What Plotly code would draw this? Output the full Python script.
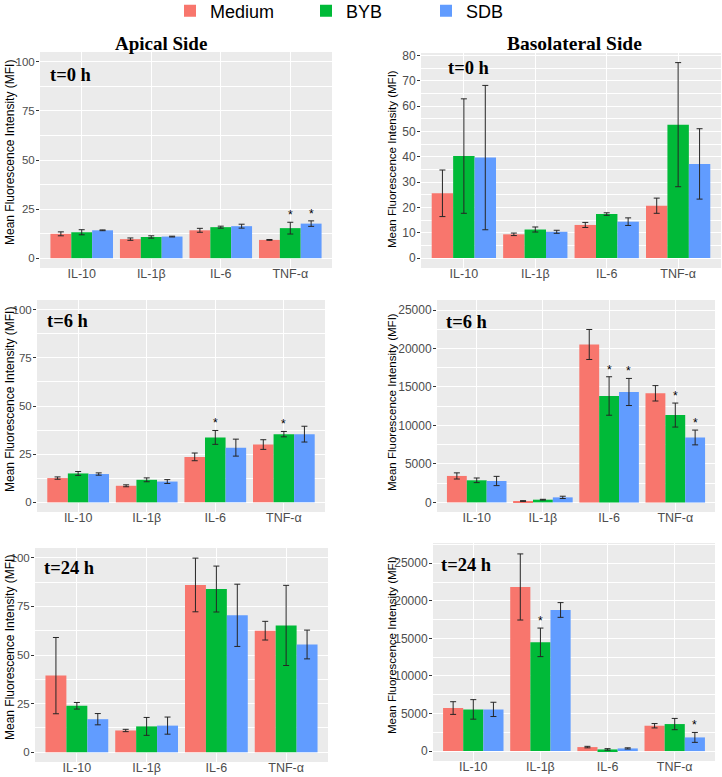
import plotly.graph_objects as go

W, H = 722, 777

cytokines = ["IL-10", "IL-1β", "IL-6", "TNF-α"]
groups = ["Medium", "BYB", "SDB"]
colors = ["#F8766D", "#00BA38", "#619CFF"]

# Apical side, t=0 h
ap0_medium = [12.4, 9.7, 14.2, 9.3]
ap0_medium_sd = [1.0, 0.6, 1.0, 0.2]
ap0_byb = [13.2, 10.8, 15.8, 15.3]
ap0_byb_sd = [1.3, 0.6, 0.5, 3.0]
ap0_sdb = [14.2, 11.0, 16.3, 17.6]
ap0_sdb_sd = [0.2, 0.2, 1.0, 1.4]
ap0_stars = [(3, 1), (3, 2)]

# Basolateral side, t=0 h
bl0_medium = [25.6, 9.4, 13.1, 20.7]
bl0_medium_sd = [9.2, 0.5, 1.0, 3.0]
bl0_byb = [40.3, 11.3, 17.4, 52.7]
bl0_byb_sd = [22.6, 1.0, 0.5, 24.5]
bl0_sdb = [39.7, 10.4, 14.4, 37.2]
bl0_sdb_sd = [28.5, 0.6, 1.5, 13.9]
bl0_stars = []

# Apical side, t=6 h
ap6_medium = [12.6, 8.6, 23.6, 30.0]
ap6_medium_sd = [0.6, 0.5, 2.0, 2.5]
ap6_byb = [15.0, 11.7, 33.7, 35.4]
ap6_byb_sd = [1.0, 1.0, 3.6, 1.4]
ap6_sdb = [14.7, 10.8, 28.4, 35.4]
ap6_sdb_sd = [0.6, 1.0, 4.4, 4.1]
ap6_stars = [(2, 1), (3, 1)]

# Basolateral side, t=6 h
bl6_medium = [3435, 174, 20520, 14174]
bl6_medium_sd = [400, 50, 1950, 1000]
bl6_byb = [2870, 350, 13826, 11348]
bl6_byb_sd = [300, 50, 2500, 1560]
bl6_sdb = [2780, 650, 14348, 8435]
bl6_sdb_sd = [600, 150, 1760, 960]
bl6_stars = [(2, 1), (2, 2), (3, 1), (3, 2)]

# Apical side, t=24 h
ap24_medium = [39.4, 11.2, 86.0, 62.5]
ap24_medium_sd = [19.6, 0.6, 13.8, 4.8]
ap24_byb = [23.9, 13.3, 83.9, 65.2]
ap24_byb_sd = [1.7, 4.6, 11.8, 20.6]
ap24_sdb = [17.0, 13.7, 70.4, 55.4]
ap24_sdb_sd = [2.9, 4.4, 16.0, 7.4]
ap24_stars = []

# Basolateral side, t=24 h
bl24_medium = [5728, 21847, 533, 3375]
bl24_medium_sd = [845, 4400, 100, 290]
bl24_byb = [5550, 14476, 222, 3597]
bl24_byb_sd = [1300, 1900, 100, 750]
bl24_sdb = [5550, 18783, 355, 1820]
bl24_sdb_sd = [950, 980, 80, 660]
bl24_stars = [(1, 1), (3, 2)]

panels = [
    dict(label="t=0 h", vals=[ap0_medium, ap0_byb, ap0_sdb], sds=[ap0_medium_sd, ap0_byb_sd, ap0_sdb_sd],
         stars=ap0_stars, px=(40, 332, 52, 268), yr=[-5, 105], dt=25, mdt=12.5, lab=(0.027, 0.893), yt=(10, 153)),
    dict(label="t=0 h", vals=[bl0_medium, bl0_byb, bl0_sdb], sds=[bl0_medium_sd, bl0_byb_sd, bl0_sdb_sd],
         stars=bl0_stars, px=(421, 721, 53, 268), yr=[-3.9, 81.0], dt=10, mdt=5, lab=(0.083, 0.93), yt=(392, 159)),
    dict(label="t=6 h", vals=[ap6_medium, ap6_byb, ap6_sdb], sds=[ap6_medium_sd, ap6_byb_sd, ap6_sdb_sd],
         stars=ap6_stars, px=(37, 325, 300, 512), yr=[-5, 105], dt=25, mdt=12.5, lab=(0.028, 0.90), yt=(10, 400)),
    dict(label="t=6 h", vals=[bl6_medium, bl6_byb, bl6_sdb], sds=[bl6_medium_sd, bl6_byb_sd, bl6_sdb_sd],
         stars=bl6_stars, px=(437, 715, 300, 512), yr=[-1250, 26300], dt=5000, mdt=2500, lab=(0.025, 0.896), yt=(392, 402)),
    dict(label="t=24 h", vals=[ap24_medium, ap24_byb, ap24_sdb], sds=[ap24_medium_sd, ap24_byb_sd, ap24_sdb_sd],
         stars=ap24_stars, px=(35, 328, 548, 762), yr=[-5, 105], dt=25, mdt=12.5, lab=(0.024, 0.906), yt=(10, 648)),
    dict(label="t=24 h", vals=[bl24_medium, bl24_byb, bl24_sdb], sds=[bl24_medium_sd, bl24_byb_sd, bl24_sdb_sd],
         stars=bl24_stars, px=(433, 715, 543, 761), yr=[-1320, 27700], dt=5000, mdt=2500, lab=(0.02, 0.90), yt=(392, 645)),
]

fig = go.Figure()
annotations = []
legend_names = ["legend", "legend2", "legend3"]

for i, p in enumerate(panels):
    n = i + 1
    xa = "x" if n == 1 else f"x{n}"
    ya = "y" if n == 1 else f"y{n}"
    for g in range(3):
        fig.add_trace(go.Bar(
            x=cytokines, y=p["vals"][g], name=groups[g],
            marker=dict(color=colors[g], line=dict(width=0)),
            error_y=dict(type="data", array=p["sds"][g], color="#262626", thickness=1, width=3),
            xaxis=xa, yaxis=ya, offsetgroup=str(g), legendgroup=groups[g],
            showlegend=(n == 1), legend=legend_names[g],
        ))
    x0, x1, y0, y1 = p["px"]
    fig.layout[f"xaxis{'' if n == 1 else n}"] = dict(
        domain=[x0 / W, x1 / W], anchor=ya, type="category", categoryorder="array",
        categoryarray=cytokines, range=[-0.6, 3.6], showgrid=True, gridcolor="white", gridwidth=1.1,
        ticks="", ticklabelstandoff=-4,
        tickfont=dict(family="Liberation Sans", size=12.5, color="#4D4D4D"),
        zeroline=False, showline=False, fixedrange=True, automargin=False,
    )
    fig.layout[f"yaxis{'' if n == 1 else n}"] = dict(
        domain=[1 - y1 / H, 1 - y0 / H], anchor=xa, range=p["yr"], tick0=0, dtick=p["dt"],
        tickformat="d",
        showgrid=True, gridcolor="white", gridwidth=1.1,
        minor=dict(tick0=0, dtick=p["mdt"], showgrid=True, gridcolor="white", gridwidth=0.5, ticks=""),
        ticks="outside", ticklen=3, tickcolor="#333333", tickwidth=1, ticklabelstandoff=-1,
        tickfont=dict(family="Liberation Sans", size=11.5 if x0 < 100 else 12, color="#4D4D4D"),
        zeroline=False, showline=False, fixedrange=True, automargin=False,
    )
    # panel label
    annotations.append(dict(
        text="<b>" + p["label"] + "</b>", xref=f"{xa} domain", yref=f"{ya} domain",
        x=p["lab"][0], y=p["lab"][1], xanchor="left", yanchor="middle", showarrow=False,
        font=dict(family="Liberation Serif", size=18.5, color="black"),
    ))
    # y-axis title
    annotations.append(dict(
        text="Mean Fluorescence Intensity (MFI)", xref="paper", yref="paper",
        x=p["yt"][0] / W, y=1 - p["yt"][1] / H, xanchor="center", yanchor="middle",
        textangle=-90, showarrow=False,
        font=dict(family="Liberation Sans", size=12 if x0 < 100 else 11.5, color="black"),
    ))
    # significance stars
    for ci, g in p["stars"]:
        annotations.append(dict(
            text="*", xref=xa, yref=ya, x=ci + (g - 1) * 0.3,
            y=p["vals"][g][ci] + p["sds"][g][ci], xanchor="center", yanchor="bottom",
            showarrow=False, yshift=-2, font=dict(family="Liberation Sans", size=12, color="black"),
        ))

annotations.append(dict(text="<b>Apical Side</b>", xref="paper", yref="paper", x=161 / W, y=1 - 43 / H,
                        xanchor="center", yanchor="middle", showarrow=False,
                        font=dict(family="Liberation Serif", size=19, color="black")))
annotations.append(dict(text="<b>Basolateral Side</b>", xref="paper", yref="paper", x=574 / W, y=1 - 43 / H,
                        xanchor="center", yanchor="middle", showarrow=False,
                        font=dict(family="Liberation Serif", size=19.5, color="black")))

legend_x = [170, 306, 426]
leg_common = dict(orientation="h", yanchor="middle", y=1 - 11 / H, xanchor="left",
                  font=dict(family="Liberation Sans", size=18, color="black"),
                  bgcolor="rgba(0,0,0,0)", borderwidth=0)
fig.update_layout(
    width=W, height=H, margin=dict(l=0, r=0, t=0, b=0, autoexpand=False),
    paper_bgcolor="white", plot_bgcolor="#EBEBEB",
    barmode="group", bargap=0.1, bargroupgap=0,
    annotations=annotations,
    legend=dict(x=legend_x[0] / W, **leg_common),
    legend2=dict(x=legend_x[1] / W, **leg_common),
    legend3=dict(x=legend_x[2] / W, **leg_common),
)

fig.write_html("out.html", config={"displayModeBar": False},
               post_script="document.body.style.margin='0';document.body.style.overflow='hidden';")
